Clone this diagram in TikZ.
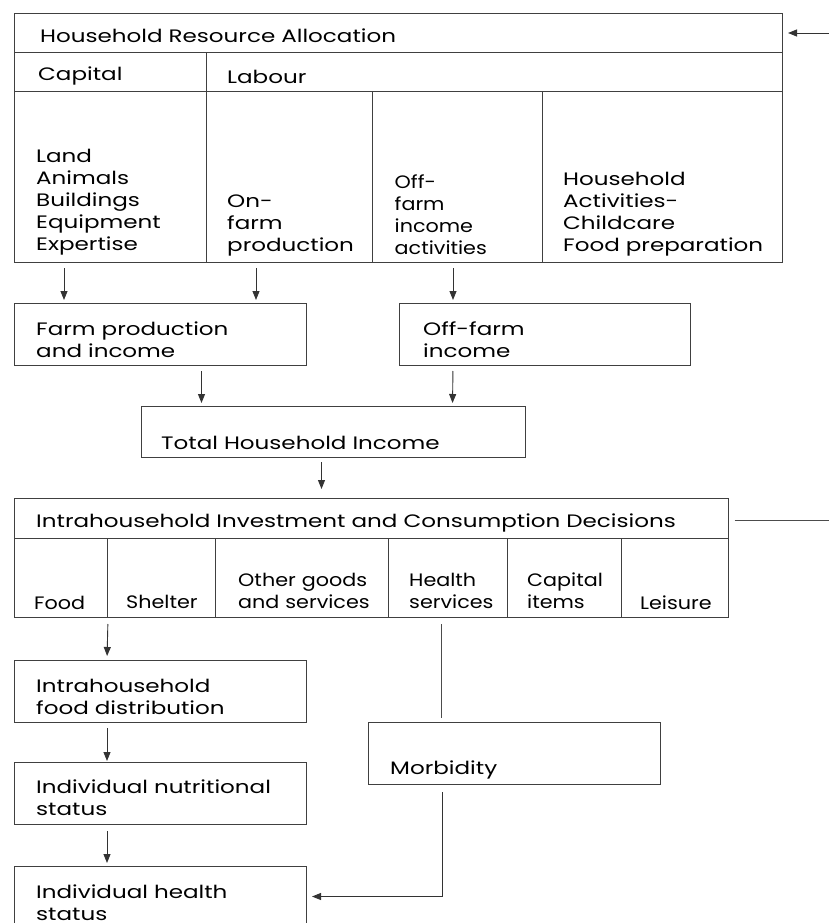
\documentclass[tikz,border=0pt]{standalone}
\usepackage{fontspec}
\setmainfont{Poppins}[FakeStretch=1.28]
\newfontfamily\narrowfont{Poppins}[FakeStretch=1.15]
\usepackage{tikz}
\usetikzlibrary{arrows.meta}

\begin{document}
\begin{tikzpicture}[x=1pt, y=-1pt,
box/.style={draw=black!75, line width=1pt, anchor=north west, inner sep=0, minimum width=#1},
txt/.style={anchor=base west, inner sep=0, align=left, text width=720pt, font=\fontsize{18}{22}\selectfont},
ntxt/.style={txt, font=\narrowfont\fontsize{18}{22}\selectfont},
arr/.style={-{Triangle[length=9pt,width=7pt]}, draw=black!80, line width=0.9pt},
lnk/.style={draw=black!70, line width=1pt}]
\useasboundingbox (0,0) rectangle (829,923);
\node[box=768pt, minimum height=39pt] (hra) at (14,13) {};
\node[box=192pt, minimum height=39pt] (caphd) at (14,52) {};
\node[box=576pt, minimum height=39pt] (labhd) at (206,52) {};
\node[box=192pt, minimum height=171pt] (c1) at (14,91) {};
\node[box=166pt, minimum height=171pt] (c2) at (206,91) {};
\node[box=169.5pt, minimum height=171pt] (c3) at (372,91) {};
\node[box=240.5pt, minimum height=171pt] (c4) at (541.5,91) {};
\node[box=292pt, minimum height=62pt] (farm) at (14,303) {};
\node[box=291pt, minimum height=62pt] (offfarm) at (399,303) {};
\node[box=384.5pt, minimum height=51pt] (total) at (140.5,406) {};
\node[box=713.5pt, minimum height=40pt] (iicd) at (14,498) {};
\node[box=93pt, minimum height=79pt] (food) at (14,538) {};
\node[box=108pt, minimum height=79pt] (shelter) at (107,538) {};
\node[box=172.5pt, minimum height=79pt] (other) at (215,538) {};
\node[box=119pt, minimum height=79pt] (health) at (387.5,538) {};
\node[box=114.5pt, minimum height=79pt] (capitems) at (506.5,538) {};
\node[box=106.5pt, minimum height=79pt] (leisure) at (621,538) {};
\node[box=292pt, minimum height=62pt] (fooddist) at (14,660) {};
\node[box=292pt, minimum height=62pt] (nutstat) at (14,762) {};
\node[box=292pt, minimum height=62pt] (healthstat) at (14,866) {};
\node[box=292pt, minimum height=62pt] (morb) at (367.5,722) {};
\node[txt] (hra_t) at (40,43) {Household Resource Allocation};
\node[txt] (caphd_t) at (38,81) {Capital};
\node[txt] (labhd_t) at (227,84) {Labour};
\node[txt] (c1_t) at (36,162) {Land\\Animals\\Buildings\\Equipment\\Expertise};
\node[txt] (c2_t) at (227,207) {On-\\farm\\production};
\node[ntxt] (c3_t) at (394.5,188) {Off-\\farm\\income\\activities};
\node[txt] (c4_t) at (563,185) {Household\\Activities-\\Childcare\\Food preparation};
\node[txt] (farm_t) at (36,335) {Farm production\\and income};
\node[txt] (offfarm_t) at (423,335) {Off-farm\\income};
\node[txt] (total_t) at (161,449) {Total Household Income};
\node[txt] (iicd_t) at (36,527) {Intrahousehold Investment and Consumption Decisions};
\node[ntxt] (food_t) at (34,609) {Food};
\node[ntxt] (shelter_t) at (126,608) {Shelter};
\node[ntxt] (other_t) at (238,586) {Other goods\\and services};
\node[ntxt] (health_t) at (409,586) {Health\\services};
\node[ntxt] (capitems_t) at (527,586) {Capital\\items};
\node[ntxt] (leisure_t) at (640,609) {Leisure};
\node[txt] (fooddist_t) at (36,692) {Intrahousehold\\food distribution};
\node[txt] (morb_t) at (390,774) {Morbidity};
\node[txt] (nutstat_t) at (36,793) {Individual nutritional\\status};
\node[txt] (healthstat_t) at (36,898) {Individual health\\status};
\coordinate (fbin) at (829,33);
\coordinate (fbout) at (829,520);
\draw[arr, shorten >=5pt] (fbin) -- (fbin -| hra.east);
\draw[lnk, shorten <=6pt] (iicd.east |- fbout) -- (fbout);
\draw[arr, shorten <=5pt, shorten >=3pt] ([xshift=50pt]c1.south west) -- ([xshift=50pt]farm.north west);
\draw[arr, shorten <=5pt, shorten >=3pt] ([xshift=50pt]c2.south west) -- ([xshift=242pt]farm.north west);
\draw[arr, shorten <=5pt, shorten >=3pt] ([xshift=81pt]c3.south west) -- ([xshift=54pt]offfarm.north west);
\draw[arr, shorten <=5pt, shorten >=3pt] ([xshift=187.5pt]farm.south west) -- ([xshift=61pt]total.north west);
\draw[arr, shorten <=5pt, shorten >=3pt] ([xshift=54pt]offfarm.south west) -- ([xshift=312pt]total.north west);
\draw[arr, shorten <=4pt, shorten >=9pt] ([xshift=181pt]total.south west) -- ([xshift=307.5pt]iicd.north west);
\draw[arr, shorten <=6pt, shorten >=4pt] (food.south east) -- ([xshift=93pt]fooddist.north west);
\draw[arr, shorten <=5pt, shorten >=1pt] ([xshift=93pt]fooddist.south west) -- ([xshift=93pt]nutstat.north west);
\draw[arr, shorten <=6pt, shorten >=3pt] ([xshift=93pt]nutstat.south west) -- ([xshift=93pt]healthstat.north west);
\draw[lnk, shorten <=6pt, shorten >=4pt] ([xshift=54pt]health.south west) -- ([xshift=74pt]morb.north west);
\draw[arr, shorten <=7pt, shorten >=5pt] ([xshift=75pt]morb.south west) |- ([yshift=1pt]healthstat.east);
\end{tikzpicture}
\end{document}
